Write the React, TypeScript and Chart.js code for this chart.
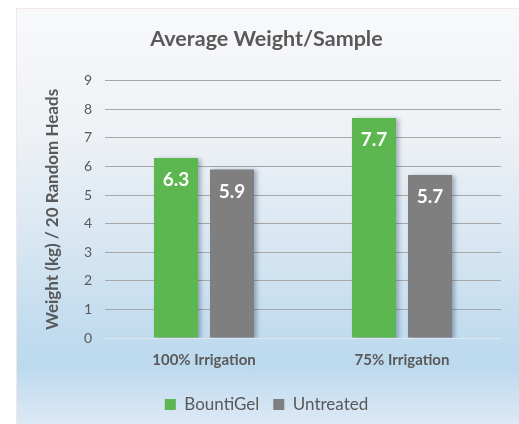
import React, { useEffect, useRef } from "react";
import { Chart, registerables } from "chart.js";

Chart.register(...registerables);

const categories = ["100% Irrigation", "75% Irrigation"];
const bountiGel = [6.3, 7.7];
const untreated = [5.9, 5.7];
const seriesNames = ["BountiGel", "Untreated"];
const chartTitle = "Average Weight/Sample";
const yAxisTitle = "Weight (kg) / 20 Random Heads";

const FONT = "Lato, 'Open Sans', sans-serif";
const TEXT = "#595959";

export default function App() {
  const ref = useRef<HTMLCanvasElement | null>(null);
  useEffect(() => {
    if (!ref.current) return;
    const shadowPlugin = {
      id: "barShadow",
      beforeDatasetsDraw(chart: any) {
        const ctx = chart.ctx;
        ctx.save();
        ctx.shadowColor = "rgba(40,60,90,0.35)";
        ctx.shadowBlur = 4;
        ctx.shadowOffsetX = 3;
        ctx.shadowOffsetY = 1;
      },
      afterDatasetsDraw(chart: any) {
        chart.ctx.restore();
      },
    };
    const labelPlugin = {
      id: "barLabels",
      afterDraw(chart: any) {
        const ctx = chart.ctx;
        ctx.save();
        ctx.fillStyle = "#ffffff";
        ctx.font = `bold 19px ${FONT}`;
        ctx.textAlign = "center";
        ctx.textBaseline = "middle";
        chart.data.datasets.forEach((ds: any, di: number) => {
          const meta = chart.getDatasetMeta(di);
          meta.data.forEach((bar: any, i: number) => {
            ctx.fillText(String(ds.data[i].toFixed(1)), bar.x, bar.y + 22);
          });
        });
        ctx.restore();
      },
    };
    const chart = new Chart(ref.current, {
      type: "bar",
      data: {
        labels: categories,
        datasets: [
          { label: seriesNames[0], data: bountiGel, backgroundColor: "#5cb750", barPercentage: 0.786, categoryPercentage: 0.566 },
          { label: seriesNames[1], data: untreated, backgroundColor: "#7f7f7f", barPercentage: 0.786, categoryPercentage: 0.566 },
        ],
      },
      options: {
        animation: false,
        responsive: false,
        maintainAspectRatio: false,
        layout: { padding: { left: 32, right: 18, top: 26, bottom: 1 } },
        plugins: {
          tooltip: { enabled: false },
          title: {
            display: true,
            text: chartTitle,
            color: TEXT,
            font: { family: FONT, size: 21.5, weight: "bold" },
            padding: { top: 0, bottom: 29 },
          },
          legend: {
            position: "bottom",
            labels: {
              color: TEXT,
              font: { family: FONT, size: 17 },
              boxWidth: 11,
              boxHeight: 11,
              padding: 14,
            },
          },
        },
        scales: {
          x: {
            grid: { display: false, drawTicks: false },
            border: { display: false },
            ticks: { color: TEXT, font: { family: FONT, size: 15, weight: "bold" }, padding: 13 },
          },
          y: {
            min: 0,
            max: 9,
            afterFit(scale: any) { scale.width = 73; },
            grid: {
              drawTicks: false,
              color: (c: any) => (c.index === 0 ? "#dfe6ec" : "#a6a6a6"),
            },
            border: { display: false },
            ticks: { stepSize: 1, color: TEXT, font: { family: FONT, size: 14 }, padding: 13 },
            title: {
              display: true,
              text: yAxisTitle,
              color: TEXT,
              font: { family: FONT, size: 17, weight: "bold" },
              padding: { top: 10, bottom: 0 },
            },
          },
        },
      },
      plugins: [shadowPlugin, labelPlugin],
    });
    return () => chart.destroy();
  }, []);

  return (
    <div style={{ position: "fixed", left: 0, top: 0, width: 519, height: 424, background: "#ffffff" }}>
      <div
        style={{
          position: "absolute",
          left: 16,
          top: 8,
          width: 503,
          height: 416,
          boxSizing: "border-box",
          borderLeft: "1px solid #f3e6e6",
          borderTop: "1px solid #f3e6e6",
          background:
            "linear-gradient(to bottom, #f8f9fb 0%, #eef1f5 30%, #d9e7f2 55%, #c4ddef 75%, #bcd9ee 86%, #dde9f5 100%)",
        }}
      />
      <canvas ref={ref} width={519} height={424} style={{ position: "absolute", left: 0, top: 0 }} />
    </div>
  );
}
